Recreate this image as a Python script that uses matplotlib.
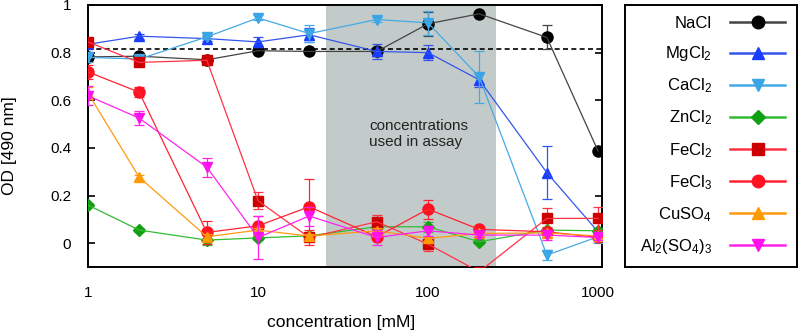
import numpy as np
import matplotlib
matplotlib.use('Agg')
import matplotlib.pyplot as plt

plt.rcParams['font.family'] = ['Liberation Sans', 'DejaVu Sans']
plt.rcParams['mathtext.fontset'] = 'custom'
plt.rcParams['mathtext.rm'] = 'Liberation Sans'
plt.rcParams['mathtext.it'] = 'Liberation Sans:italic'

# concentrations [mM]
conc = [1, 2, 5, 10, 20, 50, 100, 200, 500, 1000]

names = ['NaCl', 'MgCl$_\\mathregular{2}$', 'CaCl$_\\mathregular{2}$', 'ZnCl$_\\mathregular{2}$',
         'FeCl$_\\mathregular{2}$', 'FeCl$_\\mathregular{3}$', 'CuSO$_\\mathregular{4}$',
         'Al$_\\mathregular{2}$(SO$_\\mathregular{4}$)$_\\mathregular{3}$']

nacl = [0.782, 0.785, 0.77, 0.808, 0.805, 0.805, 0.921, 0.963, 0.864, 0.387]
mgcl2 = [0.835, 0.869, 0.859, 0.845, 0.875, 0.805, 0.80, 0.686, 0.296, 0.048]
cacl2 = [0.78, 0.773, 0.866, 0.946, 0.88, 0.939, 0.925, 0.698, -0.05, 0.027]
zncl2 = [0.16, 0.055, 0.013, 0.022, 0.031, 0.069, 0.069, 0.006, 0.055, 0.052]
fecl2 = [0.845, 0.759, 0.768, 0.178, 0.024, 0.09, -0.004, -0.12, 0.104, 0.104]
fecl3 = [0.719, 0.634, 0.045, 0.073, 0.153, 0.027, 0.143, 0.058, 0.048, 0.024]
cuso4 = [0.63, 0.277, 0.027, 0.055, 0.03, 0.052, 0.02, 0.041, 0.043, 0.03]
al2so43 = [0.619, 0.525, 0.319, 0.024, 0.114, 0.024, 0.052, 0.034, 0.034, 0.024]

nacl_err = [0.01, 0.01, 0.01, 0.01, 0.01, 0.02, 0.05, 0.005, 0.05, 0.01]
mgcl2_err = [0.01, 0.01, 0.01, 0.02, 0.03, 0.03, 0.033, 0.03, 0.11, 0.01]
cacl2_err = [0.02, 0.01, 0.01, 0.01, 0.034, 0.01, 0.05, 0.11, 0.02, 0.025]
zncl2_err = [0.01, 0.01, 0.02, 0.01, 0.01, 0.01, 0.02, 0.01, 0.01, 0.01]
fecl2_err = [0.01, 0.01, 0.01, 0.035, 0.03, 0.03, 0.03, 0.01, 0.045, 0.05]
fecl3_err = [0.03, 0.02, 0.05, 0.04, 0.115, 0.01, 0.04, 0.01, 0.02, 0.01]
cuso4_err = [0.025, 0.01, 0.01, 0.01, 0.01, 0.01, 0.01, 0.01, 0.01, 0.01]
al2so43_err = [0.04, 0.03, 0.04, 0.09, 0.04, 0.03, 0.02, 0.01, 0.02, 0.01]

series = [nacl, mgcl2, cacl2, zncl2, fecl2, fecl3, cuso4, al2so43]
errors = [nacl_err, mgcl2_err, cacl2_err, zncl2_err, fecl2_err, fecl3_err, cuso4_err, al2so43_err]

line_colors = ['#444444', '#3355ee', '#44aae6', '#33bb33', '#ff3344', '#ff2233', '#ff9911', '#ff22ee']
marker_colors = ['#000000', '#1a3cff', '#3aa4e4', '#11a011', '#cc0000', '#ff1122', '#ff9900', '#ff11ee']
markers = ['o', '^', 'v', 'D', 's', 'o', '^', 'v']
msizes = [8, 7.5, 7.5, 6, 7.5, 8, 7.5, 7.5]

assay_range = (25, 250)
reference_od = 0.815

fig = plt.figure(figsize=(7.99, 3.31), dpi=100)
ax = fig.add_axes([88/799, 64/331, 514/799, 262/331])

ax.axvspan(assay_range[0], assay_range[1], color='#c3cbca', zorder=0, lw=0)
ax.axhline(reference_od, color='black', ls=(0, (3, 2)), lw=1.2, zorder=1)

handles = []
for i in range(len(series)):
    c = marker_colors[i]
    ax.errorbar(conc, series[i], yerr=errors[i], color=line_colors[i], ecolor=line_colors[i],
                elinewidth=0.9, capsize=3.3, capthick=0.9, lw=0.9, zorder=2 + i)
    ax.plot(conc, series[i], ls='none', marker=markers[i], ms=msizes[i], color=c,
            mec=c, zorder=2 + i)
    # proxy artist for the legend
    leg_line, = ax.plot([], [], color=line_colors[i], lw=1.8, marker=markers[i],
                        ms=msizes[i] + 1, mfc=c, mec=c)
    handles.append(leg_line)

ax.text(45, 0.459, 'concentrations\nused in assay', fontsize=11, color='#222222',
        ha='left', va='center', linespacing=1.15)

ax.set_xscale('log')
ax.set_xlim(1, 1055)
ax.set_ylim(-0.1, 1.0)
ax.set_xticks([1, 10, 100, 1000])
ax.set_xticklabels(['1', '10', '100', '1000'])
ax.xaxis.set_minor_locator(matplotlib.ticker.NullLocator())
ax.set_yticks([0, 0.2, 0.4, 0.6, 0.8, 1.0])
ax.set_yticklabels(['0', '0.2', '0.4', '0.6', '0.8', '1'])
ax.tick_params(axis='x', length=0, pad=14, labelsize=11)
ax.tick_params(axis='y', direction='in', length=5, width=1.2, right=True, pad=12, labelsize=11)
for s in ax.spines.values():
    s.set_linewidth(1.4)

ax.set_xlabel('concentration [mM]', fontsize=12.5)
ax.xaxis.set_label_coords(0.492, -0.185)
ax.set_ylabel('OD [490 nm]', fontsize=12.5)
ax.yaxis.set_label_coords(-0.138, 0.462)

# legend box
lax = fig.add_axes([625/799, 64/331, 172/799, 262/331])
lax.set_xticks([])
lax.set_yticks([])
for s in lax.spines.values():
    s.set_linewidth(1.4)
lax.legend(handles, names, loc='center right', frameon=False, markerfirst=False,
           fontsize=12, handlelength=3.3, handletextpad=1.1, labelspacing=0.8,
           borderaxespad=0.3)

fig.savefig('out.png', dpi=100)
